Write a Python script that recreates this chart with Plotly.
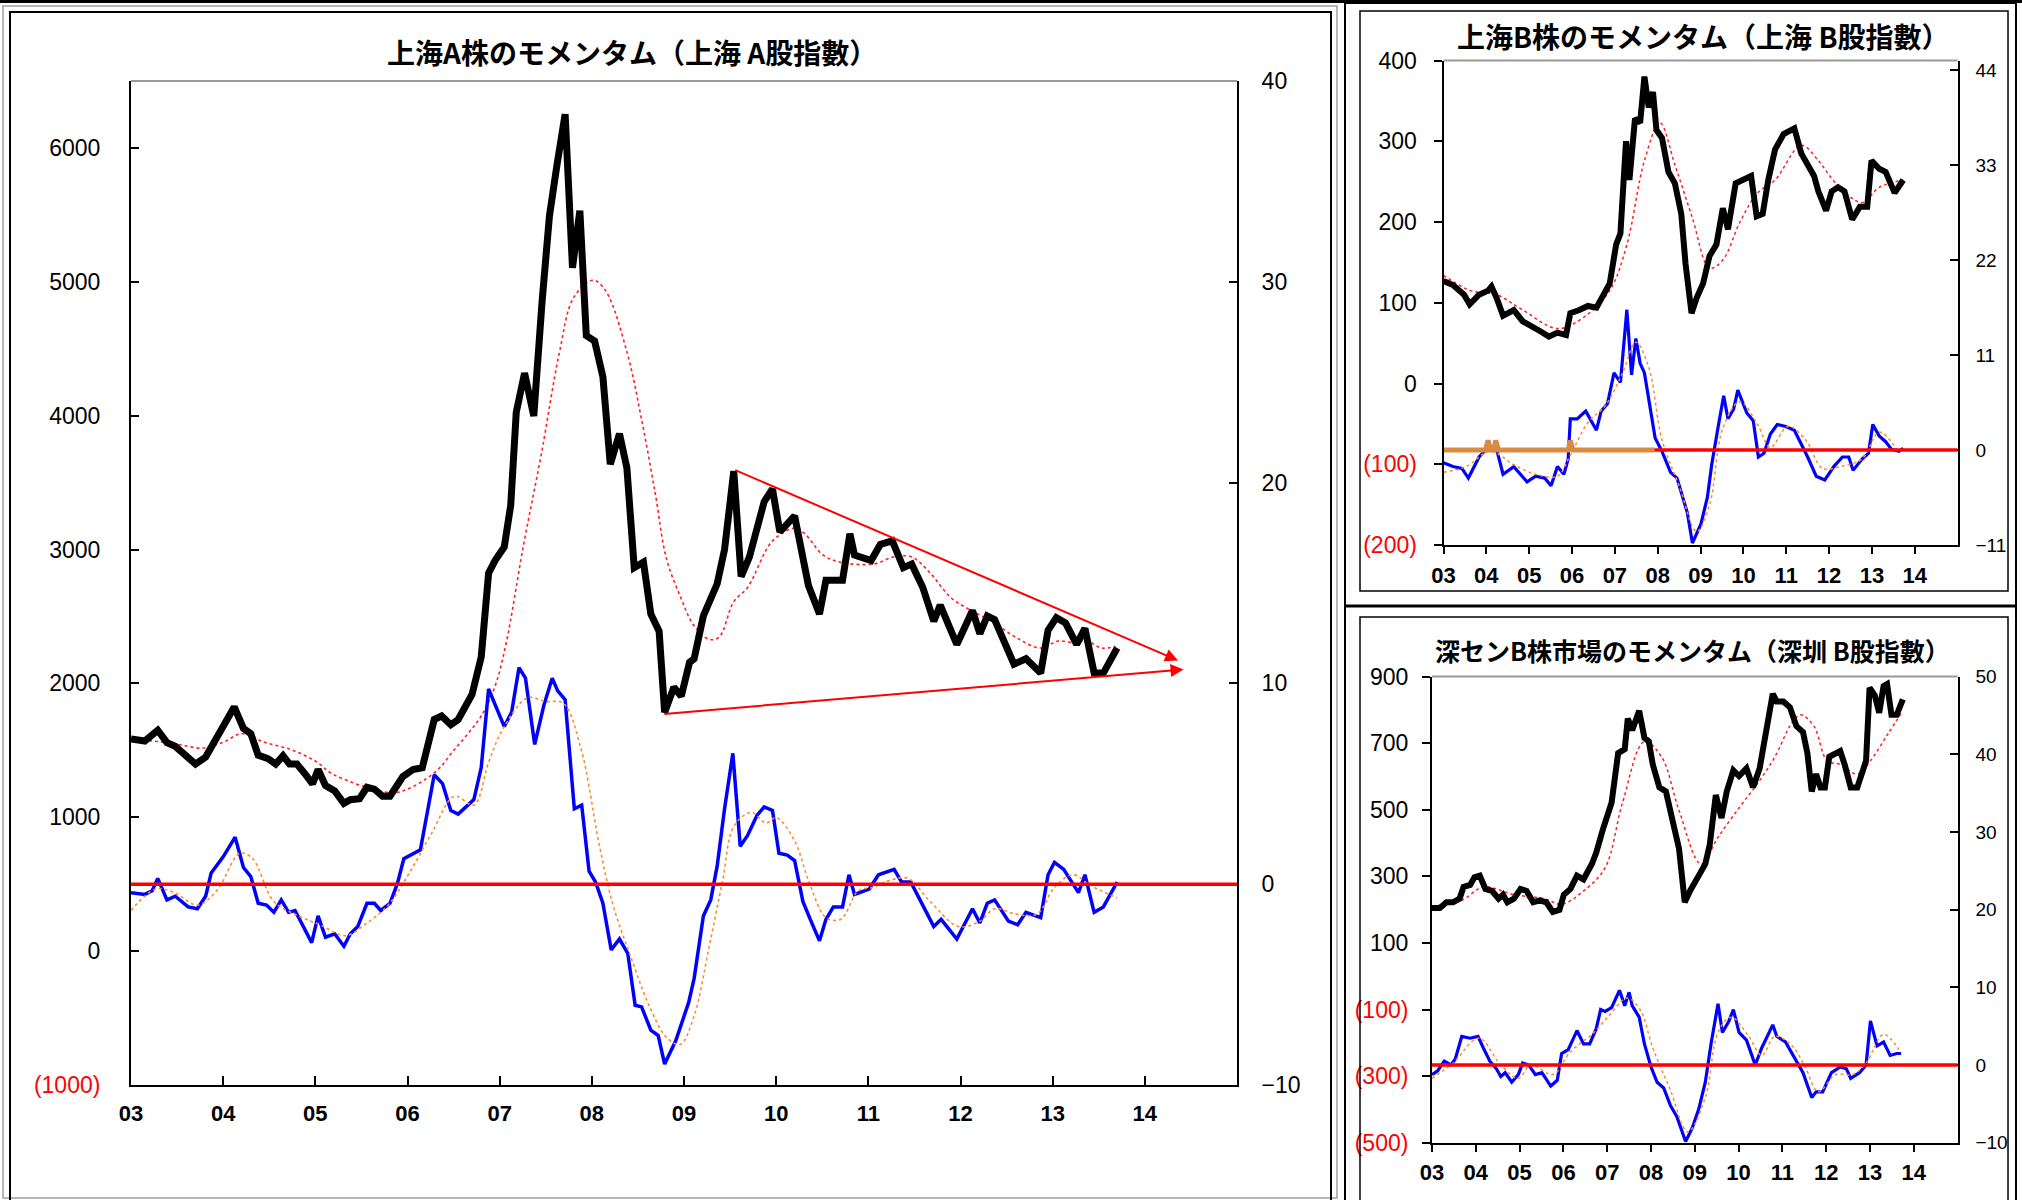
import plotly.graph_objects as go

# ---- data (decimal year, value) ----
years = [2003, 2004, 2005, 2006, 2007, 2008, 2009, 2010, 2011, 2012, 2013, 2014]
year_labels = ['03', '04', '05', '06', '07', '08', '09', '10', '11', '12', '13', '14']

# Shanghai A: index (left axis), its moving average, momentum (right axis) and its average
a_index = [(2003.00, 1584), (2003.15, 1570), (2003.29, 1650), (2003.39, 1557), (2003.48, 1530), (2003.70, 1397),
           (2003.81, 1450), (2003.97, 1650), (2004.12, 1824), (2004.22, 1664), (2004.30, 1624), (2004.38, 1464),
           (2004.49, 1437), (2004.57, 1397), (2004.65, 1459), (2004.72, 1397), (2004.80, 1397), (2004.88, 1331),
           (2004.97, 1250), (2005.03, 1357), (2005.11, 1237), (2005.21, 1197), (2005.31, 1104), (2005.38, 1131),
           (2005.48, 1139), (2005.56, 1224), (2005.64, 1210), (2005.73, 1157), (2005.81, 1157), (2005.95, 1304),
           (2006.06, 1357), (2006.16, 1370), (2006.29, 1730), (2006.37, 1757), (2006.47, 1691), (2006.55, 1730),
           (2006.70, 1917), (2006.80, 2197), (2006.88, 2824), (2006.95, 2917), (2007.05, 3020), (2007.12, 3331),
           (2007.18, 4025), (2007.27, 4318), (2007.37, 3998), (2007.46, 4851), (2007.54, 5492), (2007.62, 5865),
           (2007.71, 6252), (2007.79, 5105), (2007.87, 5532), (2007.94, 4598), (2008.03, 4558), (2008.12, 4291),
           (2008.20, 3638), (2008.30, 3865), (2008.38, 3611), (2008.46, 2865), (2008.56, 2905), (2008.64, 2518),
           (2008.73, 2390), (2008.79, 1784), (2008.89, 1971), (2008.97, 1904), (2009.06, 2157), (2009.11, 2184),
           (2009.21, 2504), (2009.36, 2744), (2009.44, 3000), (2009.54, 3585), (2009.62, 2798), (2009.71, 2945),
           (2009.87, 3358), (2009.96, 3452), (2010.04, 3131), (2010.20, 3251), (2010.35, 2731), (2010.47, 2518),
           (2010.54, 2771), (2010.72, 2771), (2010.80, 3118), (2010.85, 2958), (2011.03, 2918), (2011.13, 3038),
           (2011.26, 3065), (2011.38, 2865), (2011.47, 2891), (2011.59, 2718), (2011.71, 2465), (2011.78, 2585),
           (2011.96, 2291), (2012.13, 2544), (2012.21, 2371), (2012.29, 2504), (2012.37, 2477), (2012.58, 2144),
           (2012.71, 2184), (2012.87, 2077), (2012.95, 2397), (2013.04, 2491), (2013.14, 2451), (2013.26, 2291),
           (2013.35, 2411), (2013.45, 2077), (2013.55, 2077), (2013.70, 2264)]
a_index_ma = [(2003.00, 1570), (2003.23, 1570), (2003.50, 1545), (2003.78, 1517), (2004.00, 1560), (2004.20, 1624),
              (2004.45, 1560), (2004.74, 1504), (2005.00, 1420), (2005.17, 1330), (2005.40, 1260), (2005.56, 1224),
              (2005.70, 1195), (2005.87, 1184), (2006.00, 1210), (2006.18, 1277), (2006.35, 1370), (2006.49, 1490),
              (2006.65, 1620), (2006.80, 1757), (2006.95, 1980), (2007.07, 2300), (2007.26, 3038), (2007.45, 3705),
              (2007.65, 4478), (2007.80, 4878), (2008.01, 5012), (2008.15, 4932), (2008.38, 4478), (2008.54, 3971),
              (2008.69, 3411), (2008.81, 2930), (2008.96, 2650), (2009.10, 2440), (2009.27, 2330), (2009.38, 2344),
              (2009.54, 2611), (2009.69, 2717), (2009.96, 3064), (2010.20, 3160), (2010.31, 3118), (2010.51, 2958),
              (2010.70, 2905), (2011.05, 2891), (2011.28, 2945), (2011.47, 2945), (2011.67, 2825), (2011.90, 2638),
              (2012.13, 2540), (2012.37, 2451), (2012.60, 2344), (2012.87, 2264), (2013.06, 2317), (2013.22, 2304),
              (2013.37, 2317), (2013.53, 2264), (2013.68, 2277)]
a_mom = [(2003.00, -0.42), (2003.15, -0.51), (2003.23, -0.33), (2003.29, 0.29), (2003.39, -0.78), (2003.48, -0.60),
         (2003.62, -1.13), (2003.72, -1.22), (2003.81, -0.60), (2003.87, 0.56), (2004.00, 1.36), (2004.13, 2.34),
         (2004.22, 0.83), (2004.30, 0.38), (2004.38, -0.95), (2004.47, -1.04), (2004.55, -1.40), (2004.63, -0.78),
         (2004.71, -1.40), (2004.78, -1.31), (2004.96, -2.91), (2005.03, -1.58), (2005.11, -2.64), (2005.21, -2.47),
         (2005.31, -3.09), (2005.38, -2.47), (2005.46, -2.11), (2005.56, -0.95), (2005.64, -0.95), (2005.71, -1.31),
         (2005.81, -0.95), (2005.89, 0.03), (2005.96, 1.27), (2006.14, 1.71), (2006.29, 5.45), (2006.38, 5.01),
         (2006.47, 3.67), (2006.55, 3.49), (2006.72, 4.21), (2006.80, 5.81), (2006.88, 9.72), (2007.05, 7.85),
         (2007.13, 8.57), (2007.21, 10.79), (2007.28, 10.26), (2007.38, 6.96), (2007.48, 8.92), (2007.57, 10.26),
         (2007.63, 9.63), (2007.71, 9.19), (2007.81, 3.76), (2007.89, 3.94), (2007.97, 0.65), (2008.04, 0.11),
         (2008.12, -0.95), (2008.21, -3.27), (2008.30, -2.73), (2008.39, -3.45), (2008.47, -6.03), (2008.54, -6.11),
         (2008.64, -7.27), (2008.72, -7.54), (2008.79, -8.96), (2008.91, -7.80), (2009.05, -5.90), (2009.11, -4.69),
         (2009.21, -1.58), (2009.29, -0.78), (2009.36, 0.91), (2009.44, 3.76), (2009.53, 6.52), (2009.61, 1.89),
         (2009.69, 2.43), (2009.79, 3.41), (2009.87, 3.85), (2009.96, 3.67), (2010.03, 1.54), (2010.12, 1.45),
         (2010.20, 1.18), (2010.29, -0.86), (2010.37, -1.75), (2010.47, -2.82), (2010.54, -1.75), (2010.62, -1.13),
         (2010.72, -1.13), (2010.79, 0.47), (2010.85, -0.51), (2011.01, -0.24), (2011.11, 0.47), (2011.28, 0.74),
         (2011.36, 0.11), (2011.46, 0.11), (2011.59, -1.04), (2011.71, -2.11), (2011.79, -1.75), (2011.96, -2.73),
         (2012.13, -1.22), (2012.21, -1.93), (2012.29, -0.95), (2012.37, -0.78), (2012.52, -1.84), (2012.62, -2.02),
         (2012.71, -1.40), (2012.87, -1.67), (2012.95, 0.47), (2013.02, 1.09), (2013.12, 0.74), (2013.28, -0.42),
         (2013.35, 0.47), (2013.45, -1.40), (2013.55, -1.13), (2013.70, 0.11)]
a_mom_ma = [(2003.00, -1.31), (2003.27, -0.24), (2003.47, -0.42), (2003.72, -1.04), (2003.93, -0.33), (2004.18, 1.54),
            (2004.32, 1.27), (2004.55, -0.86), (2004.82, -1.58), (2005.05, -2.02), (2005.33, -2.56), (2005.56, -1.93),
            (2005.79, -1.04), (2006.02, 0.56), (2006.26, 2.52), (2006.51, 4.38), (2006.72, 3.94), (2006.88, 6.07),
            (2007.03, 7.68), (2007.30, 9.28), (2007.50, 9.10), (2007.69, 9.01), (2007.88, 6.79), (2008.08, 1.98),
            (2008.23, -1.04), (2008.43, -3.71), (2008.62, -6.03), (2008.81, -7.63), (2008.96, -7.98), (2009.11, -6.56),
            (2009.27, -3.18), (2009.42, 0.20), (2009.54, 2.87), (2009.73, 3.58), (2009.89, 3.05), (2010.00, 3.32),
            (2010.20, 2.16), (2010.35, 0.20), (2010.54, -1.66), (2010.70, -1.75), (2010.89, -0.33), (2011.05, -0.15),
            (2011.24, 0.20), (2011.43, 0.29), (2011.67, -0.86), (2011.98, -2.11), (2012.21, -1.84), (2012.37, -1.22),
            (2012.60, -1.49), (2012.83, -1.49), (2013.02, -0.15), (2013.22, 0.47), (2013.41, -0.06), (2013.70, -0.69)]
# converging trend lines (start -> arrow tip), left axis
trend_upper = [(2009.54, 3598), (2014.36, 2171)]
trend_lower = [(2008.77, 1771), (2014.42, 2104)]

# Shanghai B
b_index = [(2003.00, 127), (2003.22, 122), (2003.48, 110), (2003.61, 98), (2003.83, 110), (2004.04, 115), (2004.12, 120),
           (2004.24, 106), (2004.39, 84), (2004.64, 91), (2004.85, 77), (2005.05, 72), (2005.25, 65), (2005.46, 58),
           (2005.66, 63), (2005.86, 60), (2005.96, 87), (2006.17, 91), (2006.37, 96), (2006.57, 94), (2006.73, 110),
           (2006.88, 124), (2007.03, 172), (2007.13, 186), (2007.26, 300), (2007.34, 252), (2007.47, 328), (2007.59, 323),
           (2007.69, 380), (2007.79, 342), (2007.89, 361), (2007.97, 314), (2008.10, 304), (2008.25, 262), (2008.40, 248),
           (2008.55, 210), (2008.65, 148), (2008.79, 87), (2008.91, 106), (2009.06, 124), (2009.21, 158), (2009.37, 172),
           (2009.52, 217), (2009.64, 191), (2009.82, 248), (2009.97, 252), (2010.18, 257), (2010.31, 207), (2010.45, 210),
           (2010.58, 252), (2010.74, 290), (2010.94, 309), (2011.19, 316), (2011.35, 285), (2011.50, 271), (2011.65, 257),
           (2011.75, 238), (2011.93, 214), (2012.06, 238), (2012.21, 243), (2012.36, 238), (2012.54, 203), (2012.72, 219),
           (2012.89, 219), (2012.99, 276), (2013.17, 266), (2013.32, 262), (2013.53, 236), (2013.73, 252)]
b_index_ma = [(2003.00, 134), (2003.63, 115), (2004.24, 110), (2004.85, 91), (2005.66, 68), (2006.27, 82), (2006.88, 115),
              (2007.28, 172), (2007.69, 276), (2008.05, 323), (2008.40, 271), (2008.81, 205), (2009.21, 143),
              (2009.52, 153), (2009.92, 200), (2010.33, 236), (2010.74, 252), (2011.35, 295), (2011.75, 276),
              (2012.16, 248), (2012.77, 224), (2013.17, 243), (2013.73, 252)]
b_mom = [(2003.00, -1.48), (2003.22, -1.92), (2003.43, -2.14), (2003.58, -3.25), (2003.83, -0.81), (2004.04, 0.29),
         (2004.24, 0.07), (2004.39, -2.81), (2004.64, -1.92), (2004.95, -3.69), (2005.15, -3.03), (2005.36, -3.25),
         (2005.51, -4.14), (2005.66, -1.92), (2005.81, -2.81), (2005.91, -1.04), (2005.96, 3.61), (2006.12, 3.61),
         (2006.32, 4.50), (2006.57, 2.29), (2006.68, 4.50), (2006.83, 5.39), (2006.98, 8.93), (2007.13, 7.82),
         (2007.28, 16.24), (2007.39, 8.71), (2007.49, 12.92), (2007.59, 10.04), (2007.69, 8.93), (2007.81, 5.16),
         (2007.94, 1.40), (2008.10, -0.15), (2008.30, -2.59), (2008.45, -3.25), (2008.55, -5.02), (2008.69, -7.24),
         (2008.81, -10.78), (2009.01, -8.56), (2009.16, -5.46), (2009.26, -1.70), (2009.42, 2.95), (2009.54, 6.27),
         (2009.64, 3.61), (2009.77, 4.72), (2009.87, 6.94), (2010.08, 4.28), (2010.23, 3.39), (2010.35, -0.81),
         (2010.48, -0.37), (2010.63, 1.84), (2010.79, 2.95), (2010.99, 2.73), (2011.19, 2.29), (2011.35, 0.74),
         (2011.50, -0.81), (2011.70, -3.03), (2011.90, -3.47), (2012.11, -1.92), (2012.31, -0.81), (2012.46, -0.81),
         (2012.56, -2.36), (2012.77, -1.04), (2012.92, -0.37), (2013.02, 2.95), (2013.17, 1.62), (2013.32, 0.96),
         (2013.46, 0.07), (2013.63, -0.15), (2013.73, 0.20)]
b_mom_ma = [(2003.00, -2.59), (2003.53, -1.92), (2004.09, -0.15), (2004.64, -1.70), (2005.15, -2.81), (2005.66, -3.03),
            (2005.96, -0.59), (2006.37, 3.17), (2006.78, 5.16), (2007.18, 8.93), (2007.49, 12.47), (2007.79, 9.59),
            (2008.10, 1.18), (2008.50, -4.14), (2008.91, -9.45), (2009.21, -6.35), (2009.52, 2.51), (2009.92, 5.61),
            (2010.33, 2.95), (2010.63, 0.29), (2011.04, 2.73), (2011.45, 1.18), (2011.85, -2.14), (2012.26, -1.92),
            (2012.77, -1.04), (2013.17, 2.07), (2013.58, 0.07)]
b_base = [(2003.00, 0), (2003.98, 0), (2004.04, 1.1), (2004.10, 0), (2004.17, 0), (2004.22, 1.1), (2004.28, 0),
          (2005.91, 0), (2005.96, 1.1), (2006.02, 0), (2007.92, 0)]

# Shenzhen B
s_index = [(2003.00, 205), (2003.18, 205), (2003.33, 222), (2003.48, 222), (2003.63, 233), (2003.72, 268), (2003.87, 274),
           (2003.97, 297), (2004.09, 302), (2004.22, 262), (2004.37, 256), (2004.52, 233), (2004.62, 245), (2004.72, 222),
           (2004.87, 233), (2005.02, 262), (2005.16, 256), (2005.31, 222), (2005.46, 228), (2005.61, 222), (2005.76, 193),
           (2005.91, 199), (2006.01, 245), (2006.16, 262), (2006.31, 302), (2006.46, 291), (2006.65, 337), (2006.75, 371),
           (2006.90, 440), (2007.10, 521), (2007.25, 670), (2007.40, 682), (2007.47, 774), (2007.57, 739), (2007.73, 797),
           (2007.85, 716), (2007.95, 705), (2008.04, 636), (2008.19, 567), (2008.34, 555), (2008.54, 440), (2008.64, 383),
           (2008.77, 222), (2008.89, 256), (2009.09, 302), (2009.24, 337), (2009.34, 394), (2009.48, 544), (2009.61, 475),
           (2009.73, 555), (2009.88, 618), (2010.01, 601), (2010.18, 624), (2010.33, 567), (2010.48, 624), (2010.58, 693),
           (2010.78, 848), (2010.87, 825), (2011.02, 825), (2011.17, 808), (2011.32, 751), (2011.47, 733), (2011.57, 670),
           (2011.67, 555), (2011.77, 607), (2011.87, 567), (2011.97, 567), (2012.07, 659), (2012.22, 670), (2012.32, 676),
           (2012.42, 636), (2012.56, 567), (2012.71, 567), (2012.81, 601), (2012.91, 647), (2012.99, 866), (2013.11, 843),
           (2013.21, 791), (2013.31, 871), (2013.39, 877), (2013.49, 785), (2013.61, 785), (2013.75, 831)]
s_index_ma = [(2003.00, 210), (2003.68, 228), (2004.17, 268), (2004.87, 245), (2005.56, 233), (2005.96, 216),
              (2006.46, 256), (2006.95, 325), (2007.35, 521), (2007.85, 705), (2008.24, 659), (2008.64, 498),
              (2009.14, 337), (2009.53, 417), (2010.03, 509), (2010.43, 578), (2010.83, 659), (2011.22, 762),
              (2011.42, 785), (2011.72, 751), (2012.02, 647), (2012.32, 636), (2012.71, 607), (2013.01, 647),
              (2013.41, 728), (2013.75, 797)]
s_mom = [(2003.00, -1.23), (2003.13, -0.74), (2003.28, 0.49), (2003.43, 0.0), (2003.53, 0.74), (2003.68, 3.69),
         (2003.87, 3.45), (2004.05, 3.69), (2004.17, 2.22), (2004.32, 0.49), (2004.47, -0.49), (2004.57, -1.48),
         (2004.67, -0.99), (2004.82, -2.22), (2004.97, -1.23), (2005.07, 0.25), (2005.21, 0.0), (2005.36, -1.23),
         (2005.51, -0.99), (2005.71, -2.71), (2005.86, -1.97), (2005.96, 1.48), (2006.11, 1.97), (2006.31, 4.43),
         (2006.46, 2.71), (2006.60, 2.71), (2006.75, 4.68), (2006.85, 7.14), (2006.95, 6.90), (2007.10, 7.39),
         (2007.28, 9.61), (2007.40, 7.64), (2007.50, 9.36), (2007.57, 7.64), (2007.73, 6.16), (2007.85, 2.71),
         (2008.00, -0.25), (2008.14, -2.22), (2008.29, -2.96), (2008.44, -5.17), (2008.59, -6.65), (2008.79, -9.85),
         (2008.94, -8.13), (2009.09, -5.67), (2009.24, -2.22), (2009.37, 2.71), (2009.53, 7.88), (2009.63, 4.19),
         (2009.78, 5.67), (2009.88, 7.14), (2010.01, 4.19), (2010.18, 3.20), (2010.38, 0.0), (2010.53, 2.22),
         (2010.78, 5.17), (2010.87, 3.69), (2011.07, 2.96), (2011.32, 0.49), (2011.47, -0.99), (2011.67, -4.19),
         (2011.77, -3.45), (2011.92, -3.45), (2012.12, -0.99), (2012.32, -0.25), (2012.46, -0.49), (2012.56, -1.72),
         (2012.76, -0.99), (2012.91, 0.0), (2013.01, 5.67), (2013.16, 2.46), (2013.31, 2.96), (2013.46, 1.23),
         (2013.61, 1.48), (2013.71, 1.48)]
s_mom_ma = [(2003.00, -1.72), (2003.48, 0.25), (2004.07, 3.45), (2004.57, 0.0), (2004.97, -1.72), (2005.26, 0.0),
            (2005.76, -1.23), (2006.16, 1.72), (2006.65, 3.94), (2007.05, 6.40), (2007.45, 8.62), (2007.75, 7.14),
            (2008.04, 2.22), (2008.44, -3.20), (2008.84, -8.62), (2009.24, -4.19), (2009.53, 4.19), (2009.83, 6.16),
            (2010.23, 3.69), (2010.53, 1.23), (2010.83, 3.69), (2011.22, 2.46), (2011.52, -0.25), (2011.82, -3.45),
            (2012.22, -1.23), (2012.61, -1.23), (2012.91, 0.25), (2013.31, 3.94), (2013.66, 1.97)]

W, H = 2022, 1200
NUM_FONT = "Liberation Sans, Arial, sans-serif"
CJK_FONT = "Noto Sans CJK JP"


def xs(series):
    return [p[0] for p in series]


def ys(series):
    return [p[1] for p in series]


def red(txt):
    return "<span style='color:#FF0000'>" + txt + "</span>"


def line(series, xa, ya, color, width, dash='solid', smooth=False):
    return go.Scatter(x=xs(series), y=ys(series), xaxis=xa, yaxis=ya, mode='lines',
                      line=dict(color=color, width=width, dash=dash,
                                shape='spline' if smooth else 'linear', smoothing=1.0),
                      hoverinfo='skip', showlegend=False)


fig = go.Figure()
# main panel
fig.add_trace(line(a_index_ma, 'x', 'y', '#FF2020', 1.6, 'dot', True))
fig.add_trace(line(a_index, 'x', 'y', '#000000', 7))
fig.add_trace(line(a_mom, 'x', 'y2', '#0000FF', 3.5))
fig.add_trace(line(a_mom_ma, 'x', 'y2', '#FF8A2A', 1.6, 'dot', True))
# Shanghai B
fig.add_trace(line(b_index_ma, 'x2', 'y3', '#FF2020', 1.5, 'dot', True))
fig.add_trace(line(b_index, 'x2', 'y3', '#000000', 6))
fig.add_trace(line(b_mom, 'x2', 'y4', '#0000FF', 3.2))
fig.add_trace(line(b_mom_ma, 'x2', 'y4', '#FF8A2A', 1.5, 'dot', True))
fig.add_trace(line(b_base, 'x2', 'y4', '#D98A45', 5))
# Shenzhen B
fig.add_trace(line(s_index_ma, 'x3', 'y5', '#FF2020', 1.5, 'dot', True))
fig.add_trace(line(s_index, 'x3', 'y5', '#000000', 6))
fig.add_trace(line(s_mom, 'x3', 'y6', '#0000FF', 3.2))
fig.add_trace(line(s_mom_ma, 'x3', 'y6', '#FF8A2A', 1.5, 'dot', True))

# zero lines of the momentum axes
fig.add_shape(type='line', xref='x domain', x0=0, x1=1, yref='y2', y0=0, y1=0,
              line=dict(color='#FF0000', width=3.5), layer='above')
fig.add_shape(type='line', xref='x2', x0=b_base[-1][0], x1=2015, yref='y4', y0=0, y1=0,
              line=dict(color='#FF0000', width=3.5), layer='above')
fig.add_shape(type='line', xref='x3 domain', x0=0, x1=1, yref='y6', y0=0, y1=0,
              line=dict(color='#FF0000', width=3.5), layer='above')

# trend lines with arrows
for tl in (trend_upper, trend_lower):
    fig.add_annotation(x=tl[1][0], y=tl[1][1], ax=tl[0][0], ay=tl[0][1], xref='x', yref='y',
                       axref='x', ayref='y', text='', showarrow=True, arrowhead=2, arrowsize=1.3,
                       arrowwidth=2, arrowcolor='#FF0000')

# gray top border of each plot area
for xr, yr in (('x', 'y'), ('x2', 'y3'), ('x3', 'y5')):
    fig.add_shape(type='line', xref=xr + ' domain', yref=yr + ' domain', x0=0, x1=1, y0=1, y1=1,
                  line=dict(color='#9A9A9A', width=2))


# panel frames (pixel positions -> paper)
def px_rect(x0, y0, x1, y1, color='black', width=2):
    fig.add_shape(type='rect', xref='paper', yref='paper', x0=x0 / W, x1=x1 / W,
                  y0=1 - y1 / H, y1=1 - y0 / H, line=dict(color=color, width=width))


def px_hline(x0, x1, y, color='black', width=3):
    fig.add_shape(type='line', xref='paper', yref='paper', x0=x0 / W, x1=x1 / W,
                  y0=1 - y / H, y1=1 - y / H, line=dict(color=color, width=width))


px_hline(0, W, 1.5, 'black', 3)
px_rect(3, 6, 1337, 1198, '#A0A0A0', 1.5)
px_rect(10, 12, 1331, 1230, 'black', 2)
px_rect(1345, 3, 2016, 1230, 'black', 2)
px_rect(1360, 11, 2008, 591, 'black', 1.5)
px_hline(1345, 2016, 606, 'black', 3)
px_rect(1360, 617, 2008, 1230, 'black', 1.5)

# titles
titles = [
    ("上海A株のモメンタム（上海 A股指數）", 632, 52, 28, 'bold'),
    ("上海B株のモメンタム（上海 B股指數）", 1703, 36, 28, 'bold'),
    ("深センB株市場のモメンタム（深圳 B股指數）", 1692, 650, 25, 'bold'),
]
for txt, cx, cy, sz, wt in titles:
    fig.add_annotation(x=cx / W, y=1 - cy / H, xref='paper', yref='paper', text=txt, showarrow=False,
                       xanchor='center', yanchor='middle',
                       font=dict(family=CJK_FONT, size=sz, color='black', weight=wt))


def xaxis(domain, anchor, ticks, tlen, standoff):
    return dict(domain=domain, anchor=anchor, range=[2003, 2015], tickvals=years, ticktext=year_labels,
                ticks=ticks, ticklen=tlen, tickwidth=2, tickcolor='black', showline=True, linecolor='black',
                linewidth=2, showgrid=False, zeroline=False, ticklabelstandoff=standoff, automargin=False,
                tickfont=dict(family=NUM_FONT, size=22, color='black', weight='bold'))


def yaxis(domain, anchor, rng, vals, text, side, ticks, standoff, size, overlay=None):
    d = dict(domain=domain, anchor=anchor, range=rng, tickvals=vals, ticktext=text, side=side,
             ticks=ticks, ticklen=8, tickwidth=2, tickcolor='black', showline=True, linecolor='black',
             linewidth=2, showgrid=False, zeroline=False, ticklabelstandoff=standoff, automargin=False,
             tickfont=dict(family=NUM_FONT, size=size, color='black'))
    if overlay:
        d['overlaying'] = overlay
    return d


a_left = [-1000, 0, 1000, 2000, 3000, 4000, 5000, 6000]
a_left_txt = [red('(1000)'), '0', '1000', '2000', '3000', '4000', '5000', '6000']
a_right = [-10, 0, 10, 20, 30, 40]
a_right_txt = ['−10', '0', '10', '20', '30', '40']
b_left = [-200, -100, 0, 100, 200, 300, 400]
b_left_txt = [red('(200)'), red('(100)'), '0', '100', '200', '300', '400']
b_right = [-11, 0, 11, 22, 33, 44]
b_right_txt = ['−11', '0', '11', '22', '33', '44']
s_left = [-500, -300, -100, 100, 300, 500, 700, 900]
s_left_txt = [red('(500)'), red('(300)'), red('(100)'), '100', '300', '500', '700', '900']
s_right = [-10, 0, 10, 20, 30, 40, 50]
s_right_txt = ['−10', '0', '10', '20', '30', '40', '50']

main_y = [1 - 1085 / H, 1 - 81 / H]
b_y = [1 - 545 / H, 1 - 60.5 / H]
s_y = [1 - 1142.7 / H, 1 - 676.5 / H]

fig.update_layout(
    width=W, height=H, margin=dict(l=0, r=0, t=0, b=0, autoexpand=False),
    paper_bgcolor='white', plot_bgcolor='white', showlegend=False,
    xaxis=xaxis([131 / W, 1237 / W], 'y', 'inside', 9, 8),
    yaxis=yaxis(main_y, 'x', [-1000, 6500], a_left, a_left_txt, 'left', 'inside', 24, 23),
    yaxis2=yaxis(main_y, 'x', [-10, 40], a_right, a_right_txt, 'right', 'inside', 18, 23, 'y'),
    xaxis2=xaxis([1443.5 / W, 1957.6 / W], 'y3', 'outside', 7, 3),
    yaxis3=yaxis(b_y, 'x2', [-200, 400], b_left, b_left_txt, 'left', 'outside', 12, 23),
    yaxis4=yaxis(b_y, 'x2', [-11, 45.1], b_right, b_right_txt, 'right', 'inside', 12, 19, 'y3'),
    xaxis3=xaxis([1432 / W, 1957.6 / W], 'y5', 'outside', 7, 2),
    yaxis5=yaxis(s_y, 'x3', [-500, 900], s_left, s_left_txt, 'left', 'outside', 9, 23),
    yaxis6=yaxis(s_y, 'x3', [-10, 50], s_right, s_right_txt, 'right', 'inside', 12, 19, 'y5'),
)

# page body margin would shift the figure; remove it
fig.write_html("out.html", config={'displayModeBar': False},
               post_script="document.body.style.margin='0';")
